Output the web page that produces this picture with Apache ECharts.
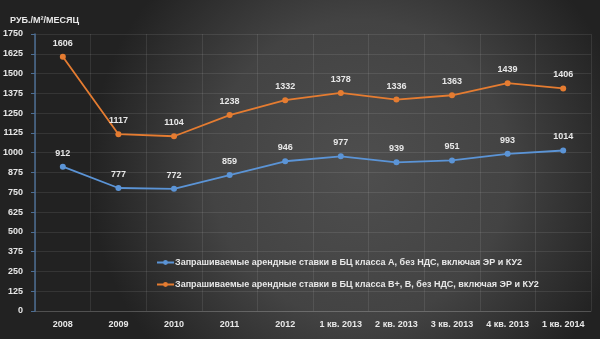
<!DOCTYPE html>
<html>
<head>
<meta charset="utf-8">
<script src="https://cdn.jsdelivr.net/npm/echarts@6/dist/echarts.min.js"></script>
<style>
  html, body { margin: 0; padding: 0; background: #2a2a2a; }
  #chart { width: 600px; height: 339px; }
</style>
</head>
<body>
<div id="chart"></div>
<script>
// Periods on the horizontal axis
const categories = ['2008', '2009', '2010', '2011', '2012', '1 кв. 2013', '2 кв. 2013', '3 кв. 2013', '4 кв. 2013', '1 кв. 2014'];

// Asking rents, class A offices (RUB per m² per month)
const classA = [912, 777, 772, 859, 946, 977, 939, 951, 993, 1014];
// Asking rents, class B+ / B offices
const classB = [1606, 1117, 1104, 1238, 1332, 1378, 1336, 1363, 1439, 1406];

const seriesNames = [
  'Запрашиваемые арендные ставки в БЦ класса А, без НДС, включая ЭР и КУ2',
  'Запрашиваемые арендные ставки в БЦ класса В+, В, без НДС, включая ЭР и КУ2'
];

const yMin = 0, yMax = 1750, yStep = 125;
const unitTitle = 'РУБ./М²/МЕСЯЦ';

const FONT = '"Liberation Sans", Arial, sans-serif';
const TEXT = '#e8e8e8';
const GRID = 'rgba(255,255,255,0.09)';

const chart = echarts.init(document.getElementById('chart'), null, { renderer: 'canvas' });

const labelStyle = {
  show: true,
  position: 'top',
  distance: 6,
  color: TEXT,
  fontFamily: FONT,
  fontWeight: 'bold',
  fontSize: 9
};

chart.setOption({
  animation: false,
  backgroundColor: {
    type: 'radial', x: 0.6, y: 0.5, r: 0.8,
    colorStops: [
      { offset: 0, color: '#4e4e4e' },
      { offset: 0.55, color: '#434343' },
      { offset: 1, color: '#222222' }
    ]
  },
  title: {
    text: unitTitle,
    left: 5, top: 11,
    textStyle: { color: TEXT, fontFamily: FONT, fontWeight: 'bold', fontSize: 9 }
  },
  grid: { left: 35, right: 9, top: 34, bottom: 28, containLabel: false },
  legend: {
    orient: 'vertical',
    left: 151, top: 253,
    itemGap: 13,
    itemWidth: 17, itemHeight: 6,
    textStyle: { color: TEXT, fontFamily: FONT, fontWeight: 'bold', fontSize: 9, padding: [0, 0, 0, -4] },
    data: seriesNames
  },
  xAxis: {
    type: 'category',
    data: categories,
    boundaryGap: true,
    axisLine: { show: true, lineStyle: { color: 'rgba(255,255,255,0.14)', width: 1 } },
    axisTick: { show: false },
    axisLabel: { color: TEXT, fontFamily: FONT, fontWeight: 'bold', fontSize: 9, margin: 9 },
    splitLine: { show: true, interval: 0, lineStyle: { color: GRID, width: 1 } }
  },
  yAxis: {
    type: 'value',
    min: yMin, max: yMax, interval: yStep,
    axisLine: { show: true, lineStyle: { color: '#4d6e93', width: 1.5 } },
    axisTick: { show: true, length: 4, lineStyle: { color: '#4d6e93' } },
    axisLabel: {
      color: TEXT, fontFamily: FONT, fontWeight: 'bold', fontSize: 9, margin: 12,
      formatter: v => String(v)
    },
    splitLine: { show: true, lineStyle: { color: GRID, width: 1 } }
  },
  series: [
    {
      name: seriesNames[0],
      type: 'line',
      data: classA,
      color: '#5b94d6',
      symbol: 'circle', symbolSize: 6,
      lineStyle: { width: 1.8, color: '#5b94d6' },
      itemStyle: { color: '#5b94d6' },
      label: labelStyle
    },
    {
      name: seriesNames[1],
      type: 'line',
      data: classB,
      color: '#e57c31',
      symbol: 'circle', symbolSize: 6,
      lineStyle: { width: 1.8, color: '#e57c31' },
      itemStyle: { color: '#e57c31' },
      label: labelStyle
    }
  ]
});
</script>
</body>
</html>
